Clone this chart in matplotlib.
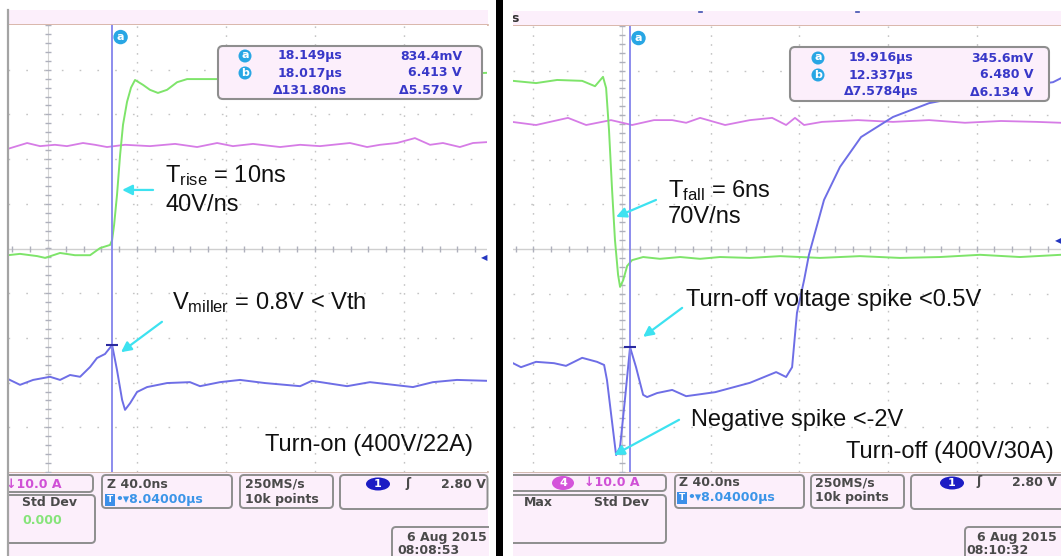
import numpy as np
import matplotlib
matplotlib.use('Agg')
import matplotlib.pyplot as plt
from matplotlib.patches import Rectangle, FancyBboxPatch, Ellipse, Circle

plt.rcParams['mathtext.fontset'] = 'custom'
plt.rcParams['mathtext.rm'] = 'Liberation Sans'

W, H = 1061, 556

# ---- turn-on capture: time in ns (40 ns/div), amplitude in divisions ----
on_green_t = [-18.0, -12.6, -4.9, -1.3, 5.4, 12.1, 18.9, 23.4, 27.9, 28.8, 29.7, 31.0, 32.4, 33.7,
              35.5, 37.3, 39.1, 42.7, 45.8, 49.4, 53.5, 58.0, 62.5, 76.0, 120.0, 160.0, 197.3]
on_green_v = [-0.15, -0.12, -0.17, -0.21, -0.10, -0.15, -0.15, 0.01, 0.08, 0.19, 0.53, 1.20, 2.10, 2.77,
              3.28, 3.60, 3.77, 3.66, 3.55, 3.48, 3.55, 3.72, 3.79, 3.79, 3.81, 3.86, 3.93]

on_mag_t = [-18.0, -9.4, -3.6, 3.1, 8.5, 15.7, 21.1, 26.5, 34.6, 45.8, 57.1, 67.0, 76.0, 83.1,
            92.1, 104.3, 113.3, 122.2, 135.7, 143.4, 149.2, 156.8, 164.9, 171.7, 177.5, 185.1, 191.0, 197.3]
on_mag_v = [2.23, 2.36, 2.29, 2.32, 2.29, 2.36, 2.32, 2.27, 2.32, 2.29, 2.34, 2.27, 2.36, 2.29,
            2.34, 2.27, 2.32, 2.29, 2.36, 2.27, 2.32, 2.36, 2.47, 2.32, 2.36, 2.27, 2.36, 2.38]

on_blue_t = [-18.0, -12.6, -6.7, 0.9, 5.4, 9.9, 14.4, 18.9, 22.0, 25.6, 28.8, 31.0, 33.3, 34.6, 36.9,
             40.0, 44.5, 53.5, 63.8, 68.3, 77.3, 86.3, 97.5, 113.3, 118.6, 134.4, 144.7, 164.0, 173.0,
             183.8, 197.3]
on_blue_v = [-2.92, -3.05, -2.94, -2.87, -2.94, -2.83, -2.87, -2.65, -2.45, -2.36, -2.16, -2.72, -3.39,
             -3.61, -3.46, -3.21, -3.10, -3.01, -2.99, -3.08, -2.99, -2.94, -3.01, -3.08, -2.96, -3.08,
             -2.99, -3.10, -2.99, -2.94, -2.96]
on_cursor = 28.8

# ---- turn-off capture ----
off_green_t = [-49.2, -38.8, -29.3, -18.0, -12.2, -8.6, -7.2, -5.9, -4.5, -3.2, -1.8, -0.9, 0.5, 2.3,
               4.5, 9.5, 17.1, 26.2, 35.2, 44.2, 57.7, 71.3, 89.3, 107.3, 125.4, 143.4, 161.5, 179.5, 198.0]
off_green_v = [3.77, 3.72, 3.79, 3.77, 3.65, 3.86, 3.61, 2.67, 1.32, 0.20, -0.58, -0.85, -0.70, -0.38,
               -0.25, -0.18, -0.22, -0.18, -0.22, -0.18, -0.20, -0.16, -0.20, -0.16, -0.20, -0.18,
               -0.13, -0.18, -0.13]

off_mag_t = [-49.6, -38.8, -24.4, -16.2, -5.0, 4.5, 14.4, 22.6, 28.9, 35.2, 46.5, 57.7, 67.7, 74.0,
             78.0, 82.1, 90.2, 106.4, 122.2, 138.5, 154.7, 170.9, 187.2, 198.0]
off_mag_v = [2.85, 2.78, 2.94, 2.78, 2.89, 2.78, 2.89, 2.89, 2.83, 2.94, 2.78, 2.89, 2.94, 2.78,
             2.94, 2.78, 2.85, 2.89, 2.85, 2.89, 2.83, 2.87, 2.85, 2.83]

off_blue_t = [-49.2, -45.6, -38.8, -30.7, -25.3, -18.0, -11.3, -8.1, -6.8, -5.0, -2.7, -0.9, 1.4, 3.6,
              6.3, 9.5, 11.3, 15.8, 22.6, 28.9, 42.0, 57.7, 69.5, 74.0, 76.7, 78.9, 82.1, 84.3, 87.0,
              91.1, 98.3, 107.8, 122.2, 138.5, 156.9, 175.0, 194.4, 198.0]
off_blue_v = [-2.56, -2.65, -2.53, -2.56, -2.62, -2.44, -2.53, -2.60, -2.94, -3.68, -4.62, -4.44, -3.32,
              -2.20, -2.65, -3.27, -3.32, -3.23, -3.16, -3.30, -3.21, -3.00, -2.76, -2.87, -2.65, -1.43,
              -0.70, -0.13, 0.36, 1.10, 1.84, 2.51, 2.96, 3.27, 3.45, 3.61, 3.74, 3.83]
off_cursor = 3.6

on_readout = [('a', '18.149µs', '834.4mV'), ('b', '18.017µs', '6.413 V'), ('', 'Δ131.80ns', 'Δ5.579 V')]
off_readout = [('a', '19.916µs', '345.6mV'), ('b', '12.337µs', '6.480 V'), ('', 'Δ7.5784µs', 'Δ6.134 V')]

GREEN = '#7EE46A'
MAGENTA = '#D67CE6'
BLUE = '#6E6EE6'
CURSOR = '#8484EC'
CYAN = '#3DE2F0'
PINK = '#FCEFFB'
BORDER = '#8E8E8E'
GRID = '#C4C4C4'
DARK = '#4A4A4A'
RBLUE = '#3838C8'

fig = plt.figure(figsize=(W / 100, H / 100), dpi=100)

# background strips
bg = fig.add_axes([0, 0, 1, 1], zorder=0)
bg.set_xlim(0, W)
bg.set_ylim(H, 0)
bg.axis('off')
for x0, x1, top in [(8, 488, 10), (513, 1061, 11)]:
    bg.add_patch(Rectangle((x0, top), x1 - x0, 15, fc=PINK, ec='none'))
    bg.plot([x0, x1], [top + 15, top + 15], color='#D4AE9E', lw=1.2)
    bg.add_patch(Rectangle((x0, 472), x1 - x0, H - 472, fc=PINK, ec='none'))
    bg.plot([x0, x1], [472, 472], color='#CDB2A4', lw=1.2)


def panel(rect, xlim):
    ax = fig.add_axes(rect, zorder=1)
    ax.set_xlim(*xlim)
    ax.set_ylim(-5, 5)
    ax.set_xticks([])
    ax.set_yticks([])
    for sp in ax.spines.values():
        sp.set_visible(False)
    for t in np.arange(-40, 201, 40):
        if t != 0:
            ax.plot([t, t], [-5, 5], color=GRID, lw=1.0, dashes=(1.2, 5.2), zorder=1)
    for v in range(-4, 5):
        if v != 0:
            ax.plot(xlim, [v, v], color=GRID, lw=1.0, dashes=(1.2, 11.6), zorder=1)
    ax.plot(xlim, [0, 0], color='#CFCFCF', lw=1.0, zorder=1)
    tk = np.arange(-48, 200, 8)
    ax.plot(tk, np.zeros_like(tk), ls='none', marker='|', ms=4, color='#AEB0BC', zorder=1)
    ax.plot([0, 0], [-5, 5], color='#D4D4D4', lw=0.8, zorder=1)
    vk = np.arange(-5, 5.01, 0.2)
    ax.plot(np.zeros_like(vk), vk, ls='none', marker='_', ms=5, color='#AEB0BC', zorder=1)
    return ax


axL = panel([8 / W, (H - 472) / H, (487 - 8) / W, (472 - 25) / H], (-18.0, 197.3))
axR = panel([513 / W, (H - 472) / H, (1061 - 513) / W, (472 - 26) / H], (-49.2, 198.0))

for ax, g, m, b, cur in [
        (axL, (on_green_t, on_green_v), (on_mag_t, on_mag_v), (on_blue_t, on_blue_v), on_cursor),
        (axR, (off_green_t, off_green_v), (off_mag_t, off_mag_v), (off_blue_t, off_blue_v), off_cursor)]:
    ax.plot(*m, color=MAGENTA, lw=1.3, zorder=2, solid_joinstyle='round')
    ax.plot(*g, color=GREEN, lw=1.4, zorder=2, solid_joinstyle='round')
    ax.plot(*b, color=BLUE, lw=1.4, zorder=2, solid_joinstyle='round')
    ax.axvline(cur, color=CURSOR, lw=1.3, zorder=3)
    ax.plot(cur, np.interp(cur, *b), marker='_', ms=9, mew=1.5, color='#2A2AA0', zorder=4)
    ax.text(cur + 3.8, 4.73, 'a', color='white', fontsize=8, fontweight='bold', ha='center',
            va='center', zorder=5, bbox=dict(boxstyle='circle,pad=0.2', fc='#28A6E4', ec='none'))

axL.text(197.3, -0.21, '◀', color='#2436C0', fontsize=6, ha='right', va='center', zorder=5)
axR.text(198.0, 0.20, '◀', color='#2436C0', fontsize=6, ha='right', va='center', zorder=5)

afont = dict(family='Liberation Sans', fontsize=17, color='#111111', va='center', zorder=6)
arrow = dict(arrowstyle='-|>', color=CYAN, lw=1.6, mutation_scale=15, shrinkA=0, shrinkB=0)

axL.text(52.6, 1.64, r'$\mathrm{T_{rise}}$ = 10ns', **afont)
axL.text(52.6, 0.97, '40V/ns', **afont)
axL.annotate('', xy=(33.3, 1.31), xytext=(47.2, 1.31), arrowprops=arrow, zorder=6)
axL.text(55.7, -1.20, r'$\mathrm{V_{miller}}$ = 0.8V < Vth', **afont)
axL.annotate('', xy=(32.8, -2.32), xytext=(51.2, -1.64), arrowprops=arrow, zorder=6)
axL.text(191.0, -4.40, 'Turn-on (400V/22A)', ha='right', **afont)

axR.text(20.7, 1.32, r'$\mathrm{T_{fall}}$ = 6ns', **afont)
axR.text(20.7, 0.72, '70V/ns', **afont)
axR.annotate('', xy=(-2.7, 0.72), xytext=(15.3, 1.10), arrowprops=arrow, zorder=6)
axR.text(28.9, -1.14, 'Turn-off voltage spike <0.5V', **afont)
axR.annotate('', xy=(9.5, -1.97), xytext=(27.1, -1.32), arrowprops=arrow, zorder=6)
axR.text(31.1, -3.83, 'Negative spike <-2V', **afont)
axR.annotate('', xy=(-3.6, -4.62), xytext=(25.7, -3.83), arrowprops=arrow, zorder=6)
axR.text(194.8, -4.55, 'Turn-off (400V/30A)', ha='right', **afont)

# overlay: readouts and status boxes
ov = fig.add_axes([0, 0, 1, 1], zorder=5)
ov.set_xlim(0, W)
ov.set_ylim(H, 0)
ov.axis('off')


def rbox(x0, y0, x1, y1, r=4, fc=PINK, ec=BORDER, lw=1.4):
    ov.add_patch(FancyBboxPatch((x0, y0), x1 - x0, y1 - y0, boxstyle=f'round,pad=0,rounding_size={r}',
                                fc=fc, ec=ec, lw=lw, zorder=3))


def txt(x, y, s, color=DARK, ha='left', size=9):
    ov.text(x, y, s, color=color, ha=ha, va='center', fontsize=size, fontweight='bold',
            family='DejaVu Sans', zorder=6)


def readout(x0, y0, x1, y1, cx, tx, vx, rows, rowy):
    rbox(x0, y0, x1, y1, r=5, lw=1.5)
    for (lab, tval, vval), y in zip(rows, rowy):
        if lab:
            ov.add_patch(Circle((cx, y), 6.5, fc='#28A6E4', ec='none', zorder=5))
            txt(cx, y - 0.5, lab, color='white', ha='center', size=8)
        txt(tx, y, tval, color=RBLUE, ha='center')
        txt(vx, y, vval, color=RBLUE, ha='right')


readout(218, 46, 482, 99, 245, 310, 462, on_readout, [56, 73, 91])
readout(790, 47, 1049, 101, 818, 881, 1033, off_readout, [58, 75, 92])


def tbox(x, y):
    txt(x + 4, y, 'T', color='white', ha='center', size=6.5)
    ov.texts[-1].set_bbox(dict(boxstyle='square,pad=0.2', fc='#3C8FE8', ec='none'))
    txt(x + 9, y, '•▾8.04000µs', color='#3B95E8')


# left status area
rbox(2, 475, 93, 492)
txt(62, 484, '↓10.0 A', color='#D050D6', ha='right')
rbox(2, 495, 95, 543)
txt(22, 503, 'Std Dev')
txt(22, 520, '0.000', color='#86E47A')
rbox(102, 475, 232, 508)
txt(107, 484, 'Z 40.0ns')
tbox(106, 500)
rbox(240, 475, 333, 508)
txt(245, 484, '250MS/s')
txt(245, 500, '10k points')
rbox(340, 475, 487.5, 509)
ov.add_patch(Ellipse((378, 484), 24, 13, fc='#1C1CC4', ec='none', zorder=5))
txt(378, 484, '1', color='white', ha='center', size=8)
txt(405, 483, 'ʃ')
txt(486, 484, '2.80 V', ha='right')
rbox(392, 527, 500, 580)
txt(407, 537, '6 Aug 2015')
txt(397, 551, '08:08:53')

# right status area
rbox(505, 475, 666, 491)
ov.add_patch(Ellipse((563, 483), 22, 14, fc='#D454DA', ec='none', zorder=5))
txt(563, 483, '4', color='white', ha='center', size=8)
txt(584, 483, '↓10.0 A', color='#D050D6')
rbox(505, 495, 666, 543)
txt(538, 503, 'Max', ha='center')
txt(622, 503, 'Std Dev', ha='center')
rbox(675, 475, 804, 508)
txt(679, 483, 'Z 40.0ns')
tbox(678, 498)
rbox(811, 475, 904, 508)
txt(815, 483, '250MS/s')
txt(815, 498, '10k points')
rbox(911, 475, 1075, 509)
ov.add_patch(Ellipse((952, 483), 24, 13, fc='#1C1CC4', ec='none', zorder=5))
txt(952, 483, '1', color='white', ha='center', size=8)
txt(976, 482, 'ʃ')
txt(1057, 483, '2.80 V', ha='right')
rbox(965, 527, 1075, 580)
txt(977, 537, '6 Aug 2015')
txt(966, 551, '08:10:32')

txt(511, 19, 's', color='#333333')
ov.plot([699, 702], [12, 12], color='#4050B0', lw=1.2, zorder=4)
ov.plot([856, 859], [12, 12], color='#4050B0', lw=1.2, zorder=4)

# panel edges and divider
ov.add_patch(Rectangle((0, 0), 8, H, fc='white', ec='none', zorder=8))
ov.add_patch(Rectangle((489, 0), 24, H, fc='white', ec='none', zorder=8))
ov.add_patch(Rectangle((496, 0), 6.5, H, fc='black', ec='none', zorder=9))
ov.plot([8, 8], [10, H], color='#A4A4A4', lw=1.6, zorder=9)

fig.savefig('out.png', dpi=100)
